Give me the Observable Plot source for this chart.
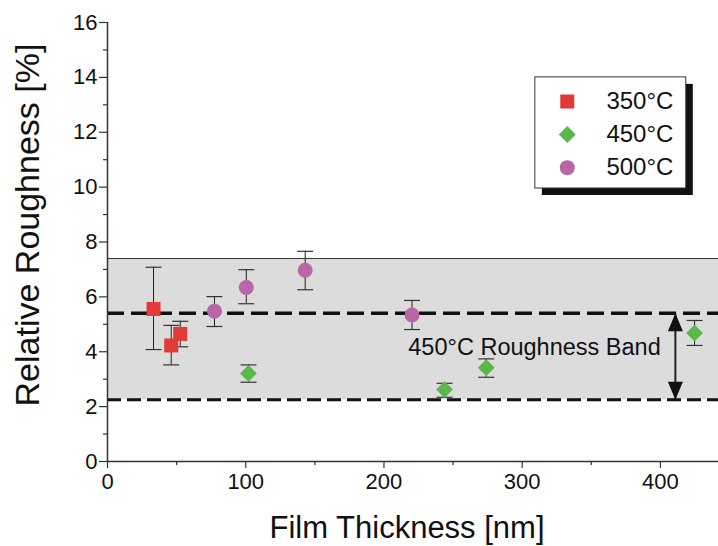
<!DOCTYPE html>
<html>
<head>
<meta charset="utf-8">
<script src="https://cdn.jsdelivr.net/npm/d3@7"></script>
<script src="https://cdn.jsdelivr.net/npm/@observablehq/plot@0.6"></script>
<style>
  html, body { margin: 0; padding: 0; background: #fff; }
  #chart [aria-label="x-axis tick label"],
  #chart [aria-label="y-axis tick label"],
  #chart [aria-label="x-axis tick label"] text,
  #chart [aria-label="y-axis tick label"] text { font-size: 22px; fill: #111; }
</style>
</head>
<body>
<div id="chart"></div>
<script>
// ---- data ----
const temps = ["350°C", "450°C", "500°C"];
const colors = ["#e23a37", "#58b848", "#b866a6"];

const x350 = [33.3, 46.1, 52.6];
const y350 = [5.56, 4.23, 4.65];
const lo350 = [4.08, 3.52, 4.18];
const hi350 = [7.08, 4.96, 5.11];

const x450 = [102, 243.8, 274, 424.7];
const y450 = [3.21, 2.62, 3.42, 4.68];
const lo450 = [2.89, 2.34, 3.07, 4.23];
const hi450 = [3.52, 2.85, 3.74, 5.14];

const x500 = [77.4, 100.4, 143, 220.3];
const y500 = [5.48, 6.34, 6.97, 5.34];
const lo500 = [4.92, 5.75, 6.26, 4.81];
const hi500 = [6.01, 6.99, 7.66, 5.87];

const bandLow = 2.25;      // 450°C roughness band bounds (dashed lines)
const bandHigh = 5.4;
const greyLow = 2.25;      // shaded region
const greyHigh = 7.4;
const bandLabel = "450°C Roughness Band";

const xTicks = [0, 100, 200, 300, 400];
const xMinor = [50, 150, 250, 350];
const yTicks = [0, 2, 4, 6, 8, 10, 12, 14, 16];
const yMinor = [1, 3, 5, 7, 9, 11, 13, 15];

const xLabel = "Film Thickness [nm]";
const yLabel = "Relative Roughness [%]";

// ---- build table ----
const series = [
  [temps[0], x350, y350, lo350, hi350],
  [temps[1], x450, y450, lo450, hi450],
  [temps[2], x500, y500, lo500, hi500]
];
const pts = series.flatMap(([t, xs, ys, los, his]) =>
  xs.map((x, i) => ({temp: t, x, y: ys[i], lo: los[i], hi: his[i]})));

const symbolOf = {"350°C": "square", "450°C": "diamond2", "500°C": "circle"};
const rOf = {"350°C": 7.9, "450°C": 7.6, "500°C": 7.5};

// custom symbols
const capSym = {draw(ctx) { ctx.moveTo(-8, 0); ctx.lineTo(8, 0); }};
const upHead = {draw(ctx) { ctx.moveTo(0, 0); ctx.lineTo(7.5, 18); ctx.lineTo(-7.5, 18); ctx.closePath(); }};
const downHead = {draw(ctx) { ctx.moveTo(0, 0); ctx.lineTo(7.5, -18); ctx.lineTo(-7.5, -18); ctx.closePath(); }};

// legend layout (data coordinates)
const legBox = {x1: 309.5, x2: 418.7, y1: 9.95, y2: 14.0};
const legSymX = 332.6, legTextX = 360.9;
const legYs = [13.12, 11.92, 10.71];
const legend = temps.map((t, i) => ({temp: t, y: legYs[i]}));

const arrowX = 410.8;
const font = "'Liberation Sans', Arial, Helvetica, sans-serif";

const markDots = (data, xk) => temps.map((t, i) =>
  Plot.dot(data.filter(d => d.temp === t), {
    x: xk, y: "y", symbol: symbolOf[t], r: rOf[t], fill: colors[i], stroke: "none"
  }));

const chart = Plot.plot({
  width: 718,
  height: 546,
  marginLeft: 107,
  marginRight: 0,
  marginTop: 22,
  marginBottom: 85,
  x: {domain: [0, 442]},
  y: {domain: [0, 16]},
  style: {fontFamily: font, fontSize: "22px", background: "#fff", color: "#111"},
  marks: [
    // shaded band
    Plot.rect([0], {x1: 0, x2: 442, y1: greyLow, y2: greyHigh, fill: "#dcdcdc"}),
    Plot.ruleY([greyHigh], {stroke: "#333", strokeWidth: 1}),
    // dashed band lines
    Plot.ruleY([bandHigh], {stroke: "#111", strokeWidth: 3.5, strokeDasharray: "17,7"}),
    Plot.ruleY([bandLow], {stroke: "#111", strokeWidth: 3, strokeDasharray: "14,6"}),
    // error bars
    Plot.ruleX(pts, {x: "x", y1: "lo", y2: "hi", stroke: "#222", strokeWidth: 1}),
    Plot.dot(pts, {x: "x", y: "lo", symbol: capSym, stroke: "#333", strokeWidth: 1.2, fill: "none"}),
    Plot.dot(pts, {x: "x", y: "hi", symbol: capSym, stroke: "#333", strokeWidth: 1.2, fill: "none"}),
    // points
    ...markDots(pts, "x"),
    // double arrow
    Plot.ruleX([arrowX], {y1: bandLow, y2: bandHigh, stroke: "#222", strokeWidth: 2}),
    Plot.dot([arrowX], {x: d => d, y: bandHigh, symbol: upHead, fill: "#111", stroke: "none"}),
    Plot.dot([arrowX], {x: d => d, y: bandLow, symbol: downHead, fill: "#111", stroke: "none"}),
    // band label
    Plot.text([bandLabel], {x: 217.6, y: 4.17, text: d => d, textAnchor: "start", fontSize: 23.5, fill: "#111"}),
    // legend
    Plot.rect([0], {...legBox, fill: "#111", dx: 7, dy: 7}),
    Plot.rect([0], {...legBox, fill: "#fff", stroke: "#333", strokeWidth: 1}),
    ...temps.map((t, i) => Plot.dot([legend[i]], {x: legSymX, y: "y", symbol: symbolOf[t], r: rOf[t], fill: colors[i], stroke: "none"})),
    Plot.text(legend, {x: legTextX, y: "y", text: "temp", textAnchor: "start", fontSize: 24, fill: "#111"}),
    // axes
    Plot.axisY({ticks: yTicks, tickSize: 8, tickPadding: 2, label: null, stroke: "#333", strokeWidth: 1.2}),
    Plot.axisY({ticks: yMinor, tickSize: 4, text: null, label: null, stroke: "#333", strokeWidth: 1.2}),
    Plot.axisX({ticks: xTicks, tickSize: 7, tickPadding: 5, label: null, stroke: "#333", strokeWidth: 1.2}),
    Plot.axisX({ticks: xMinor, tickSize: 4, text: null, label: null, stroke: "#333", strokeWidth: 1.2}),
    Plot.ruleX([0], {stroke: "#333", strokeWidth: 1.5}),
    Plot.ruleY([0], {stroke: "#333", strokeWidth: 1.5}),
    // axis titles
    Plot.text([yLabel], {frameAnchor: "left", textAnchor: "middle", lineAnchor: "middle", dx: -79, dy: -17, rotate: -90, text: d => d, fontSize: 34, fill: "#111"}),
    Plot.text([xLabel], {frameAnchor: "bottom", textAnchor: "middle", lineAnchor: "middle", dx: -6, dy: 67, text: d => d, fontSize: 31, fill: "#111"})
  ]
});

document.getElementById("chart").append(chart);
</script>
</body>
</html>
